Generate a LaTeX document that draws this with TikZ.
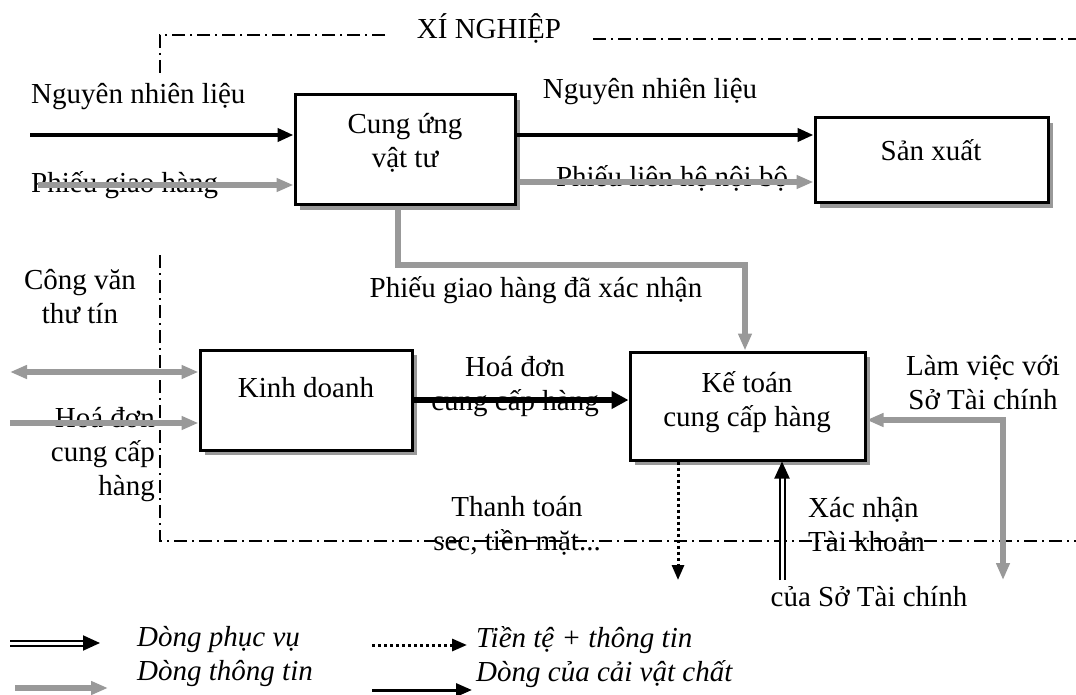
\documentclass[tikz,border=0pt]{standalone}
\usepackage{fontspec}
\setmainfont{Liberation Serif}
\usetikzlibrary{arrows.meta,shadows,calc}
\definecolor{infogray}{RGB}{153,153,153}
\begin{document}
\begin{tikzpicture}[x=1pt,y=-1pt, font=\fontsize{29}{34}\selectfont,
 box/.style={draw=black, line width=3pt, fill=white, inner sep=0pt,
   drop shadow={shadow xshift=5pt,shadow yshift=-5pt,fill=infogray,opacity=1}},
 lbl/.style={inner sep=0pt},
 matflow/.style={line width=4pt, -{Triangle[length=16pt,width=13pt]}},
 bigflow/.style={line width=6.5pt, -{Triangle[length=17pt,width=17pt]}},
 infoflow/.style={draw=infogray, line width=5.5pt, line join=miter, -{Triangle[length=17pt,width=13pt]}},
 infoboth/.style={draw=infogray, line width=5.5pt, line join=miter, {Triangle[length=17pt,width=13pt]}-{Triangle[length=17pt,width=13pt]}},
 moneyflow/.style={line width=3pt, dash pattern=on 3pt off 3pt, -{Triangle[length=15pt,width=12pt]}},
 serveflow/.style={double=white, double distance=3pt, line width=2pt, -{Triangle[length=17pt,width=15pt]}},
 boundary/.style={line width=1.4pt, dash pattern=on 13pt off 5pt on 2pt off 5pt},
 legendtext/.style={lbl, align=left, anchor=west, font=\fontsize{29}{34}\selectfont\itshape},
]
\useasboundingbox (0,0) rectangle (1076,695);

% boundary of the enterprise
\draw[boundary] (385,35) -- (160,35) -- (160,75);
\draw[boundary] (593,39) -- (1076,39);
\draw[boundary] (160,255) -- (160,541) -- (1076,541);
\node[lbl] (title) at (489,28) {XÍ NGHIỆP};

% boxes
\node[box, minimum width=220pt, minimum height=110pt] (cung) at (405,150) {};
\node[lbl, align=center] (cungT) at (405,143) {Cung ứng\\vật tư};
\node[box, minimum width=233pt, minimum height=85pt] (sx) at (931.5,160.5) {};
\node[lbl] (sxT) at (931,150) {Sản xuất};
\node[box, minimum width=212pt, minimum height=100pt] (kd) at (306,400) {};
\node[lbl] (kdT) at (306,388) {Kinh doanh};
\node[box, minimum width=235pt, minimum height=108pt] (kt) at (747.5,406) {};
\node[lbl, align=center] (ktT) at (747,402) {Kế toán\\cung cấp hàng};

% labels
\node[lbl, anchor=west] (l1) at (31,97) {Nguyên nhiên liệu};
\node[lbl, anchor=west] (l2) at (31,185) {Phiếu giao hàng};
\node[lbl] (l3) at (650,92) {Nguyên nhiên liệu};
\node[lbl] (l4) at (672,178) {Phiếu liên hệ nội bộ};
\node[lbl] (l5) at (536,290) {Phiếu giao hàng đã xác nhận};
\node[lbl, align=center] (l6) at (80,297) {Công văn\\thư tín};
\node[lbl, align=right, anchor=east] (l7) at (155,455) {Hoá đơn\\cung cấp\\hàng};
\node[lbl, align=center] (l8) at (515,387) {Hoá đơn\\cung cấp hàng};
\node[lbl, align=center] (l9) at (983,383) {Làm việc với\\Sở Tài chính};
\node[lbl, align=center] (l10) at (517,526) {Thanh toán\\sec, tiền mặt...};
\node[lbl, align=left, anchor=west] (l11) at (808,525) {Xác nhận\\Tài khoản};
\node[lbl] (l12) at (869,597) {của Sở Tài chính};

% connectors
\coordinate (nIn) at (30,135);
\draw[matflow] (nIn) -- (cung.west |- nIn);
\coordinate (pIn) at (38,185);
\draw[infoflow] (pIn) -- (cung.west |- pIn);
\coordinate (nOut) at (515,135);
\draw[matflow] (cung.east |- nOut) -- (sx.west |- nOut);
\coordinate (pOut) at (515,182);
\draw[infoflow] (cung.east |- pOut) -- (sx.west |- pOut);
\coordinate (c1) at (398,265);
\coordinate (c2) at (745,265);
\draw[infoflow] (cung.south -| c1) -- (c1) -- (c2) -- (kt.north -| c2);
\coordinate (cvL) at (10,372);
\draw[infoboth] (cvL) -- (kd.west |- cvL);
\coordinate (hdL) at (10,423);
\draw[infoflow] (hdL) -- (kd.west |- hdL);
\coordinate (hd2) at (412,400);
\draw[bigflow] (kd.east |- hd2) -- (kt.west |- hd2);
\coordinate (r1) at (1003,420);
\coordinate (r2) at (1003,580);
\draw[infoboth] (r2) -- (r1) -- (kt.east |- r1);
\coordinate (tt) at (678,580);
\draw[moneyflow] (kt.south -| tt) -- (tt);
\coordinate (xn) at (782,580);
\draw[serveflow] (xn) -- (kt.south -| xn);

% legend
\coordinate (g1a) at (10,643);  \coordinate (g1b) at (100,643);
\draw[serveflow] (g1a) -- (g1b);
\coordinate (g2a) at (15,688);  \coordinate (g2b) at (108,688);
\draw[infoflow] (g2a) -- (g2b);
\coordinate (g3a) at (372,645); \coordinate (g3b) at (467,645);
\draw[moneyflow] (g3a) -- (g3b);
\coordinate (g4a) at (372,690); \coordinate (g4b) at (472,690);
\draw[matflow, line width=3pt] (g4a) -- (g4b);
\node[legendtext] (lg1) at (137,657) {Dòng phục vụ\\Dòng thông tin};
\node[legendtext] (lg2) at (476,657) {Tiền tệ + thông tin\\Dòng của cải vật chất};
\end{tikzpicture}
\end{document}
